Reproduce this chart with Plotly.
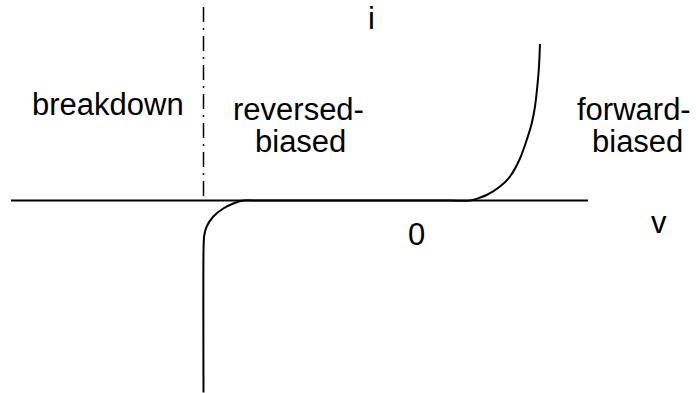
import plotly.graph_objects as go

# diode i-v characteristic (v to the right, i upward)
v_curve = [203.5, 203.5, 204.2, 206.7, 213.3, 223.3, 233.3, 243.3, 260, 450, 470,
           486.7, 500, 510, 520, 526.7, 531.7, 535, 537.3, 539, 540]
i_curve = [-192, -50, -35, -26, -16, -8, -3, 0, 0, 0, 0,
           5.5, 14, 24, 42, 60.5, 77, 94, 114, 134, 156.5]

axis_v = [11, 588]
axis_i = [0, 0]

breakdown_v = [203.5, 203.5]
breakdown_i = [193.5, 0]

labels = ["i", "breakdown", "reversed-", "biased", "forward-", "biased", "0", "v"]
label_v = [371.7, 107.5, 298, 300, 634, 637, 416.5, 659]
label_i = [182, 96, 91, 59.5, 91, 59.5, -34, -22]

fig = go.Figure()

fig.add_trace(go.Scatter(x=axis_v, y=axis_i, mode="lines",
                         line=dict(color="black", width=2)))
fig.add_trace(go.Scatter(x=breakdown_v, y=breakdown_i, mode="lines",
                         line=dict(color="black", width=1.5, dash="15px,6px,2px,6px")))
fig.add_trace(go.Scatter(x=v_curve, y=i_curve, mode="lines",
                         line=dict(color="black", width=2, shape="spline", smoothing=0.6)))

for txt, xv, yv in zip(labels, label_v, label_i):
    fig.add_annotation(x=xv, y=yv, text=txt, showarrow=False,
                       xanchor="center", yanchor="middle",
                       font=dict(family="Arial, Liberation Sans", size=31, color="black"))

fig.update_layout(
    width=696,
    height=393,
    margin=dict(l=0, r=0, t=0, b=0),
    paper_bgcolor="white",
    plot_bgcolor="white",
    showlegend=False,
    hovermode=False,
    xaxis=dict(range=[0, 696], visible=False),
    yaxis=dict(range=[-192.5, 200.5], visible=False),
)

# drop the default body margin so the figure sits at the page corner
fig.write_html("out.html", config={"displayModeBar": False},
               post_script="document.body.style.margin = '0';")
